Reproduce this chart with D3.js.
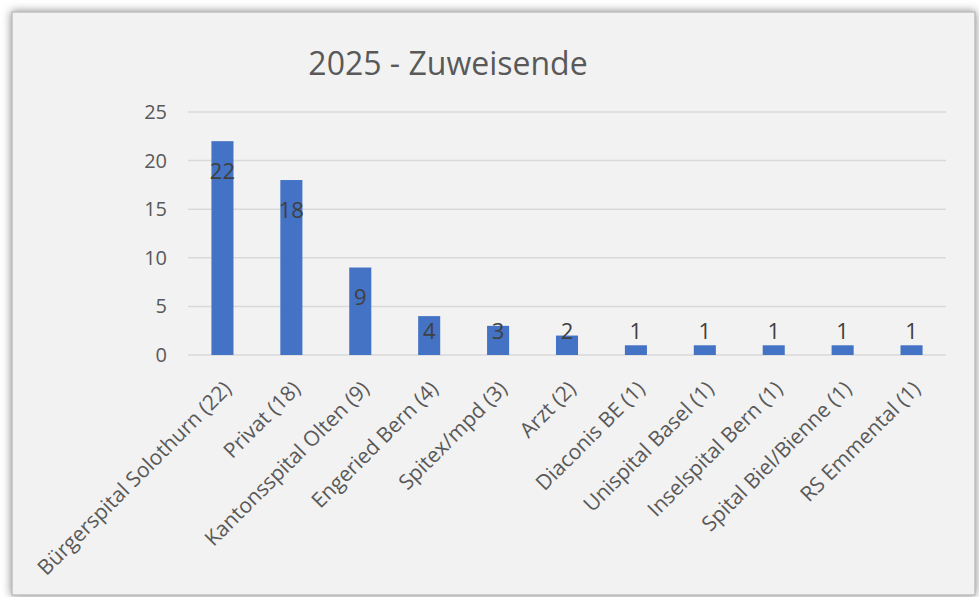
<!DOCTYPE html>
<html>
<head>
<meta charset="utf-8">
<script src="https://cdn.jsdelivr.net/npm/d3@7"></script>
<style>
  body { margin: 0; background: #ffffff; }
  svg { display: block; }
</style>
</head>
<body>
<div id="chart"></div>
<script>
var categories = ["Bürgerspital Solothurn (22)", "Privat (18)", "Kantonsspital Olten (9)", "Engeried Bern (4)",
  "Spitex/mpd (3)", "Arzt (2)", "Diaconis BE (1)", "Unispital Basel (1)", "Inselspital Bern (1)",
  "Spital Biel/Bienne (1)", "RS Emmental (1)"];
var values = [22, 18, 9, 4, 3, 2, 1, 1, 1, 1, 1];
var yTicks = [0, 5, 10, 15, 20, 25];
var title = "2025 - Zuweisende";

var W = 979, H = 597;
var font = "'Open Sans', 'Noto Sans', sans-serif";

var svg = d3.select("#chart").append("svg")
  .attr("width", W).attr("height", H);

// shadow for the frame
var defs = svg.append("defs");
var f = defs.append("filter").attr("id", "shadow")
  .attr("x", "-5%").attr("y", "-5%").attr("width", "110%").attr("height", "110%");
f.append("feDropShadow").attr("dx", 0).attr("dy", 0).attr("stdDeviation", 5)
  .attr("flood-color", "#000").attr("flood-opacity", 0.5);

svg.append("rect")
  .attr("x", 12).attr("y", 12).attr("width", 963).attr("height", 583)
  .attr("fill", "#f2f2f2").attr("stroke", "#a8a8a8").attr("stroke-width", 1)
  .attr("filter", "url(#shadow)");

// title
svg.append("text")
  .attr("x", 448).attr("y", 75)
  .attr("text-anchor", "middle")
  .attr("font-family", font).attr("font-size", 32)
  .attr("fill", "#595959")
  .text(title);

var x = d3.scaleBand()
  .domain(categories)
  .range([188, 946])
  .paddingInner(0.68).paddingOuter(0.34);

var y = d3.scaleLinear()
  .domain([0, 25])
  .range([355, 112]);

// gridlines
svg.append("g")
  .selectAll("line")
  .data(yTicks)
  .join("line")
    .attr("x1", 188).attr("x2", 946)
    .attr("y1", function(d) { return y(d); })
    .attr("y2", function(d) { return y(d); })
    .attr("stroke", "#d9d9d9").attr("stroke-width", 1.5);

// y axis labels
var yAxis = svg.append("g")
  .attr("transform", "translate(188,0)")
  .call(d3.axisLeft(y).tickValues(yTicks).tickSize(0).tickPadding(21));
yAxis.select(".domain").remove();
yAxis.selectAll("text")
  .attr("font-family", font).attr("font-size", 20)
  .attr("fill", "#595959");

// bars
svg.append("g")
  .selectAll("rect")
  .data(values)
  .join("rect")
    .attr("x", function(d, i) { return x(categories[i]); })
    .attr("y", function(d) { return y(d); })
    .attr("width", x.bandwidth())
    .attr("height", function(d) { return y(0) - y(d); })
    .attr("fill", "#4472c4");

// data labels (inside end)
svg.append("g")
  .selectAll("text")
  .data(values)
  .join("text")
    .attr("x", function(d, i) { return x(categories[i]) + x.bandwidth() / 2; })
    .attr("y", function(d) { return Math.min(y(d) + 30, y(0) - 24); })
    .attr("dy", "0.35em")
    .attr("text-anchor", "middle")
    .attr("font-family", font).attr("font-size", 22)
    .attr("fill", "#404040")
    .text(function(d) { return d; });

// x labels, rotated
var xAxis = svg.append("g")
  .attr("transform", "translate(0," + y(0) + ")")
  .call(d3.axisBottom(x).tickSize(0).tickPadding(0));
xAxis.select(".domain").remove();
xAxis.selectAll("text")
  .attr("font-family", font).attr("font-size", 21)
  .attr("fill", "#595959")
  .attr("text-anchor", "end")
  .attr("y", 0).attr("dy", "0.35em")
  .attr("transform", "translate(5,30) rotate(-45)");
</script>
</body>
</html>
